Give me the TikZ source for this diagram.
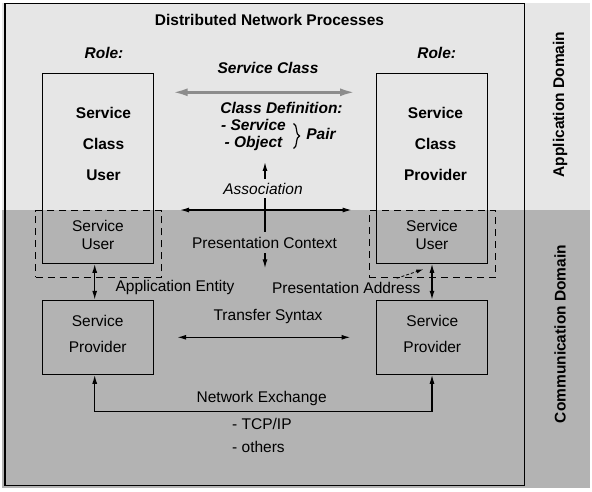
\documentclass[tikz,border=0pt]{standalone}
\usepackage{fontspec}
\setmainfont{Liberation Sans}
\usetikzlibrary{arrows.meta,decorations.pathreplacing}
\definecolor{lightbg}{RGB}{230,230,230}
\definecolor{darkbg}{RGB}{179,179,179}
\definecolor{arrgray}{RGB}{140,140,140}
\begin{document}
\begin{tikzpicture}[x=1pt,y=-1pt,
  every node/.style={font=\fontsize{15.5}{18.6}\selectfont, inner sep=0pt},
  bf/.style={font=\fontsize{15.5}{18.6}\selectfont\bfseries},
  bfit/.style={font=\fontsize{15.5}{18.6}\selectfont\bfseries\itshape},
  box/.style={draw, line width=1pt},
  dbox/.style={draw, line width=1pt, dash pattern=on 7pt off 5pt},
  arr/.style={line width=1.3pt, {Latex[length=9pt,width=5pt]}-{Latex[length=9pt,width=5pt]}},
  garr/.style={line width=2.6pt, draw=arrgray, {Latex[length=15pt,width=8pt]}-{Latex[length=15pt,width=8pt]}},
  dasharr/.style={line width=0.8pt, dash pattern=on 3pt off 2pt, -{Latex[length=7pt,width=4pt]}}
]
\useasboundingbox (0,0) rectangle (592,492);
% backgrounds
\fill[lightbg] (2,3) rectangle (590,210);
\fill[darkbg] (2,210) rectangle (590,488);
\draw[line width=1.2pt] (5,3.5) rectangle (524.3,485.5);

% boxes
\node[box, minimum width=111pt, minimum height=189.6pt] (scu) at (98.2,168.5) {};
\node[box, minimum width=111.4pt, minimum height=189.6pt] (scp) at (432,168.5) {};
\node[dbox, minimum width=126pt, minimum height=66.6pt] (dul) at (98.7,244) {};
\node[dbox, minimum width=126.4pt, minimum height=66.6pt] (dur) at (432.5,244) {};
\node[box, minimum width=111pt, minimum height=74pt] (spl) at (98.2,337.3) {};
\node[box, minimum width=111.4pt, minimum height=74pt] (spr) at (432,337.3) {};

% box texts
\node[align=center, font=\fontsize{15.5}{31}\selectfont\bfseries] (tscu) at (103.5,143.5) {Service\\Class\\User};
\node[align=center, font=\fontsize{15.5}{31}\selectfont\bfseries] (tscp) at (435.5,143.5) {Service\\Class\\Provider};
\node[align=center, font=\fontsize{15.5}{18}\selectfont] (tsul) at (98,234.5) {Service\\User};
\node[align=center, font=\fontsize{15.5}{18}\selectfont] (tsur) at (432,234.5) {Service\\User};
\node[align=center, font=\fontsize{15.5}{26.4}\selectfont] (tspl) at (97.7,333.7) {Service\\Provider};
\node[align=center, font=\fontsize{15.5}{26.4}\selectfont] (tspr) at (432.3,333.7) {Service\\Provider};

% headings
\node[bf] (title) at (269.5,20) {Distributed Network Processes};
\node[bfit] (role1) at (104,53) {Role:};
\node[bfit] (role2) at (436.7,53) {Role:};
\node[bfit] (scls) at (268,68) {Service Class};
\node[bfit] (cdef) at (281.5,108) {Class Definition:};
\node[align=center, font=\fontsize{15.5}{16.7}\selectfont\bfseries\itshape] (so) at (253.5,135) {- Service\\- Object};
\draw[line width=1.2pt, decorate, decoration={brace, amplitude=6pt}] (293.5,123.5) -- (293.5,148.5);
\node[bfit] (pair) at (321,134) {Pair};

% connectors
\coordinate (scA) at (172.7,92.3);
\coordinate (scB) at (355,92.3);
\draw[garr] (scA) -- (scB);
\coordinate (hA) at (180,210);
\coordinate (hB) at (351.7,210);
\draw[arr] (hA) -- (hB);
\coordinate (vT) at (265,162);
\coordinate (vB) at (265,268.3);
\draw[arr] (vT) -- (vB);
\node[font=\fontsize{15.5}{18.6}\selectfont\itshape, fill=lightbg, inner xsep=2pt, inner ysep=4pt] (assoc) at (263,188.5) {Association};
\node[fill=darkbg, inner xsep=2pt, inner ysep=5pt] (pctx) at (264.5,242.5) {Presentation Context};

\draw[arr] ([xshift=-3.5pt]scu.south) -- ([xshift=-3.5pt]spl.north);
\draw[arr] (scp.south) -- (spr.north);
\draw[arr] ([xshift=23pt]spl.east) -- ([xshift=-25.3pt]spr.west);
\coordinate (ne) at (0,411.7);
\draw[arr] ([xshift=-3.5pt]spl.south) -- ([xshift=-3.5pt]spl.south |- ne) -| (spr.south);

% labels
\node (aent) at (175,287) {Application Entity};
\node (paddr) at (346.2,287.5) {Presentation Address};
\coordinate (daA) at (396.7,278.3);
\coordinate (daB) at (423.3,269.3);
\draw[dasharr] (daA) -- (daB);
\node (tsyn) at (268,316.7) {Transfer Syntax};
\node (nex) at (261.7,398) {Network Exchange};
\node[anchor=west, align=left, font=\fontsize{15.5}{22.7}\selectfont] (tcp) at (232,435.5) {- TCP/IP\\- others};

% domains
\node[bf, rotate=90] (appdom) at (560,104.5) {Application Domain};
\node[bf, rotate=90] (comdom) at (560,334) {Communication Domain};
\end{tikzpicture}
\end{document}
